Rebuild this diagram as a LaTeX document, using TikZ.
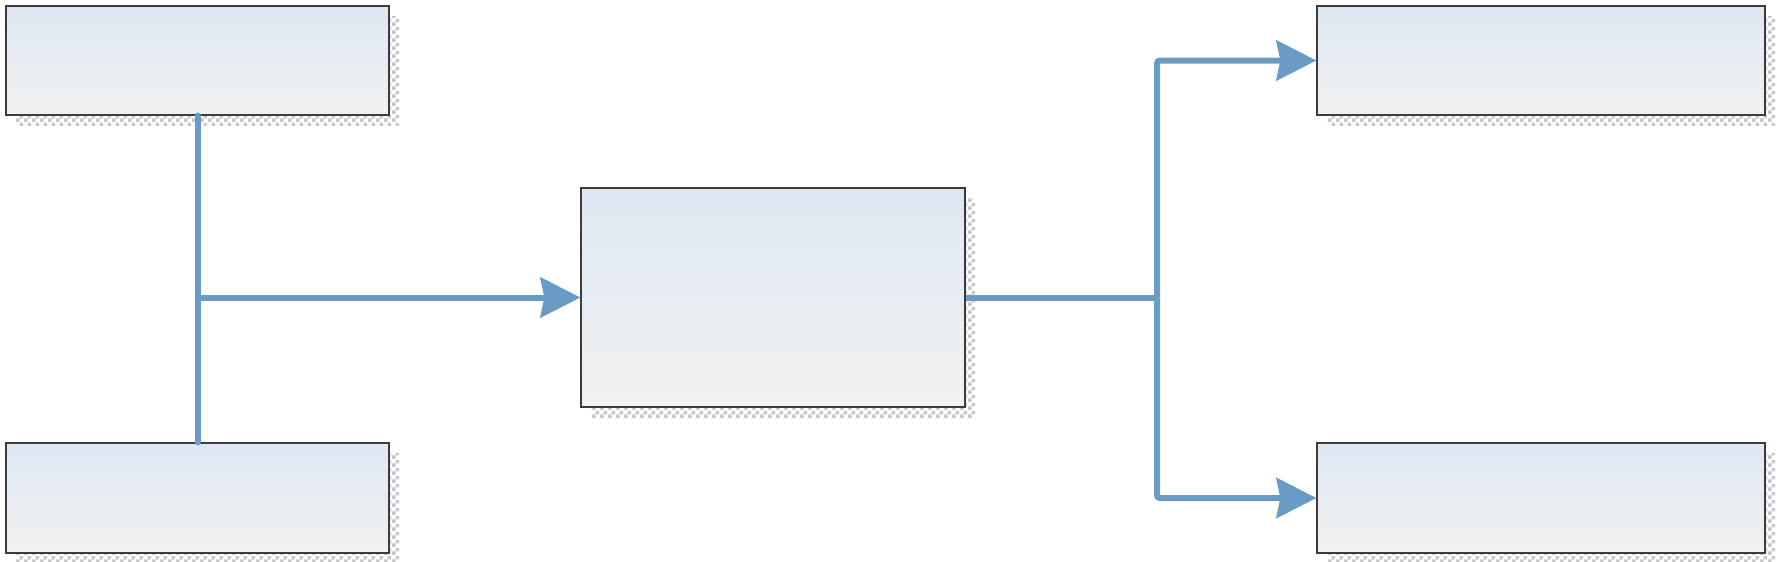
\documentclass[tikz,border=0pt]{standalone}
\usetikzlibrary{arrows.meta,patterns,shadows}
\definecolor{linkblue}{RGB}{106,155,199}
\definecolor{boxtop}{RGB}{222,232,242}
\definecolor{boxbot}{RGB}{241,241,241}
\definecolor{boxedge}{RGB}{60,60,60}
\definecolor{shadowgray}{RGB}{200,200,200}
\pgfdeclarepatternformonly{boxchecker}{\pgfpointorigin}{\pgfqpoint{4pt}{4pt}}{\pgfqpoint{4pt}{4pt}}{%
  \pgfpathrectangle{\pgfpointorigin}{\pgfqpoint{2pt}{2pt}}%
  \pgfpathrectangle{\pgfqpoint{2pt}{2pt}}{\pgfqpoint{2pt}{2pt}}%
  \pgfusepath{fill}}
\tikzset{
  procbox/.style={draw=boxedge, line width=0.6pt, inner sep=0pt,
    top color=boxtop, bottom color=boxbot,
    general shadow={pattern=boxchecker, pattern color=shadowgray,
      shadow xshift=5pt, shadow yshift=-5pt}},
  conn/.style={draw=linkblue, line width=3pt},
  arr/.style={-{Stealth[length=20pt, width=20pt, inset=2pt]}}
}
\begin{document}
\begin{tikzpicture}[x=0.5pt, y=-0.5pt]
\useasboundingbox (0,0) rectangle (1777,562);
\fill[white] (0,0) rectangle (1777,562);
% boxes
\node[procbox, minimum width=191.5pt, minimum height=54.5pt] (tl) at (197.5,60.5) {};
\node[procbox, minimum width=191.5pt, minimum height=55pt] (bl) at (197.5,498) {};
\node[procbox, minimum width=192pt, minimum height=109.5pt] (cm) at (773,297.5) {};
\node[procbox, minimum width=224pt, minimum height=54.5pt] (tr) at (1541,60.5) {};
\node[procbox, minimum width=224pt, minimum height=55pt] (br) at (1541,498) {};
% junctions
\coordinate (j1) at (197.5,297.5);
\coordinate (j2) at (1157,297.5);
% connectors
\draw[conn, line cap=round] (tl.south) -- (bl.north);
\draw[conn, arr] (j1) -- (cm.west);
\draw[conn] (cm.east) -- (j2);
\draw[conn, arr, rounded corners=1.5pt] (j2) |- (tr.west);
\draw[conn, arr, rounded corners=1.5pt] (j2) |- (br.west);
\end{tikzpicture}
\end{document}
